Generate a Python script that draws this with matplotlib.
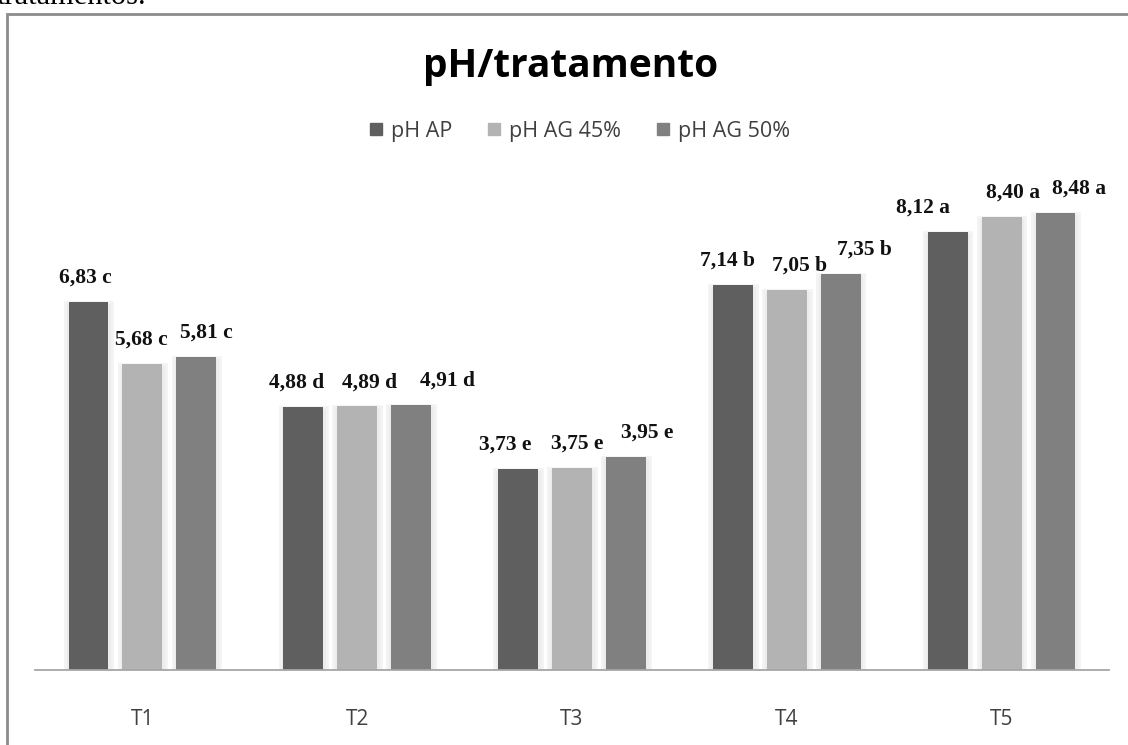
import numpy as np
import matplotlib.pyplot as plt
from matplotlib.patches import Rectangle
from matplotlib.lines import Line2D

tratamentos = ["T1", "T2", "T3", "T4", "T5"]
ph_ap = [6.83, 4.88, 3.73, 7.14, 8.12]
ph_ag45 = [5.68, 4.89, 3.75, 7.05, 8.40]
ph_ag50 = [5.81, 4.91, 3.95, 7.35, 8.48]
letras_ap = ["c", "d", "e", "b", "a"]
letras_ag45 = ["c", "d", "e", "b", "a"]
letras_ag50 = ["c", "d", "e", "b", "a"]

series = [("pH AP", ph_ap, letras_ap, "#5f5f5f"),
          ("pH AG 45%", ph_ag45, letras_ag45, "#b3b3b3"),
          ("pH AG 50%", ph_ag50, letras_ag50, "#808080")]

# horizontal nudge of each value label (points), per series and group
desloc = [[-2, -5, -9, -4, -18],
          [-1, 9, 4, 9, 8],
          [7, 26, 15, 17, 17]]

fig = plt.figure(figsize=(11.28, 7.45), dpi=100)
fig.patch.set_facecolor("white")

# caption line cut at the top of the page
fig.text(-0.003, 1 - 4/745, "tratamentos.", family="Liberation Serif",
         fontsize=22, va="baseline", ha="left", color="black")

# chart border
fig.add_artist(Rectangle((7/1128, -0.1), 1.2, 1 - 14/745 + 0.1,
                         transform=fig.transFigure, fill=False,
                         edgecolor="#8c8c8c", linewidth=2))

ax = fig.add_axes([35/1128, 75/745, 1074/1128, 539/745])
x = np.arange(len(tratamentos))
passo = 0.251
largura = 0.186

for i, (nome, vals, letras, cor) in enumerate(series):
    pos = x + (i - 1) * passo
    # soft shadow around each bar
    ax.bar(pos, vals, largura + 0.035, color="#ececec", edgecolor="#f3f3f3",
           linewidth=2, zorder=1)
    ax.bar(pos, vals, largura, color=cor, zorder=2, label=nome)
    for p, v, l, dx in zip(pos, vals, letras, desloc[i]):
        ax.annotate(f"{v:.2f}".replace(".", ",") + " " + l, (p, v),
                    xytext=(dx, 17.5), textcoords="offset points",
                    ha="center", va="center", family="Liberation Serif",
                    fontweight="bold", fontsize=15.5, color="#111111")

ax.set_xlim(-0.5, 4.5)
ax.set_ylim(0, 10)
ax.set_xticks(x)
ax.set_xticklabels(tratamentos, family="Open Sans", fontsize=15, color="#404040")
ax.tick_params(axis="x", length=0, pad=28)
ax.set_yticks([])
for s in ["left", "right", "top"]:
    ax.spines[s].set_visible(False)
ax.spines["bottom"].set_color("#a6a6a6")
ax.spines["bottom"].set_linewidth(1.3)
ax.set_facecolor("none")

fig.text(571/1128, 1 - 67/745, "pH/tratamento", family="Open Sans",
         fontweight="bold", fontsize=28, ha="center", va="center",
         color="black")

handles = [Line2D([], [], marker="s", linestyle="none", markersize=8,
                  markerfacecolor=c, markeredgecolor=c) for _, _, _, c in series]
fig.legend(handles, [s[0] for s in series], loc="center",
           bbox_to_anchor=(578/1128, 1 - 131/745), ncol=3, frameon=False,
           prop={"family": "Open Sans", "size": 15.5}, labelcolor="#404040",
           handletextpad=0.25, columnspacing=1.5, handlelength=0.9)

fig.savefig("out.png", dpi=100, facecolor="white")
